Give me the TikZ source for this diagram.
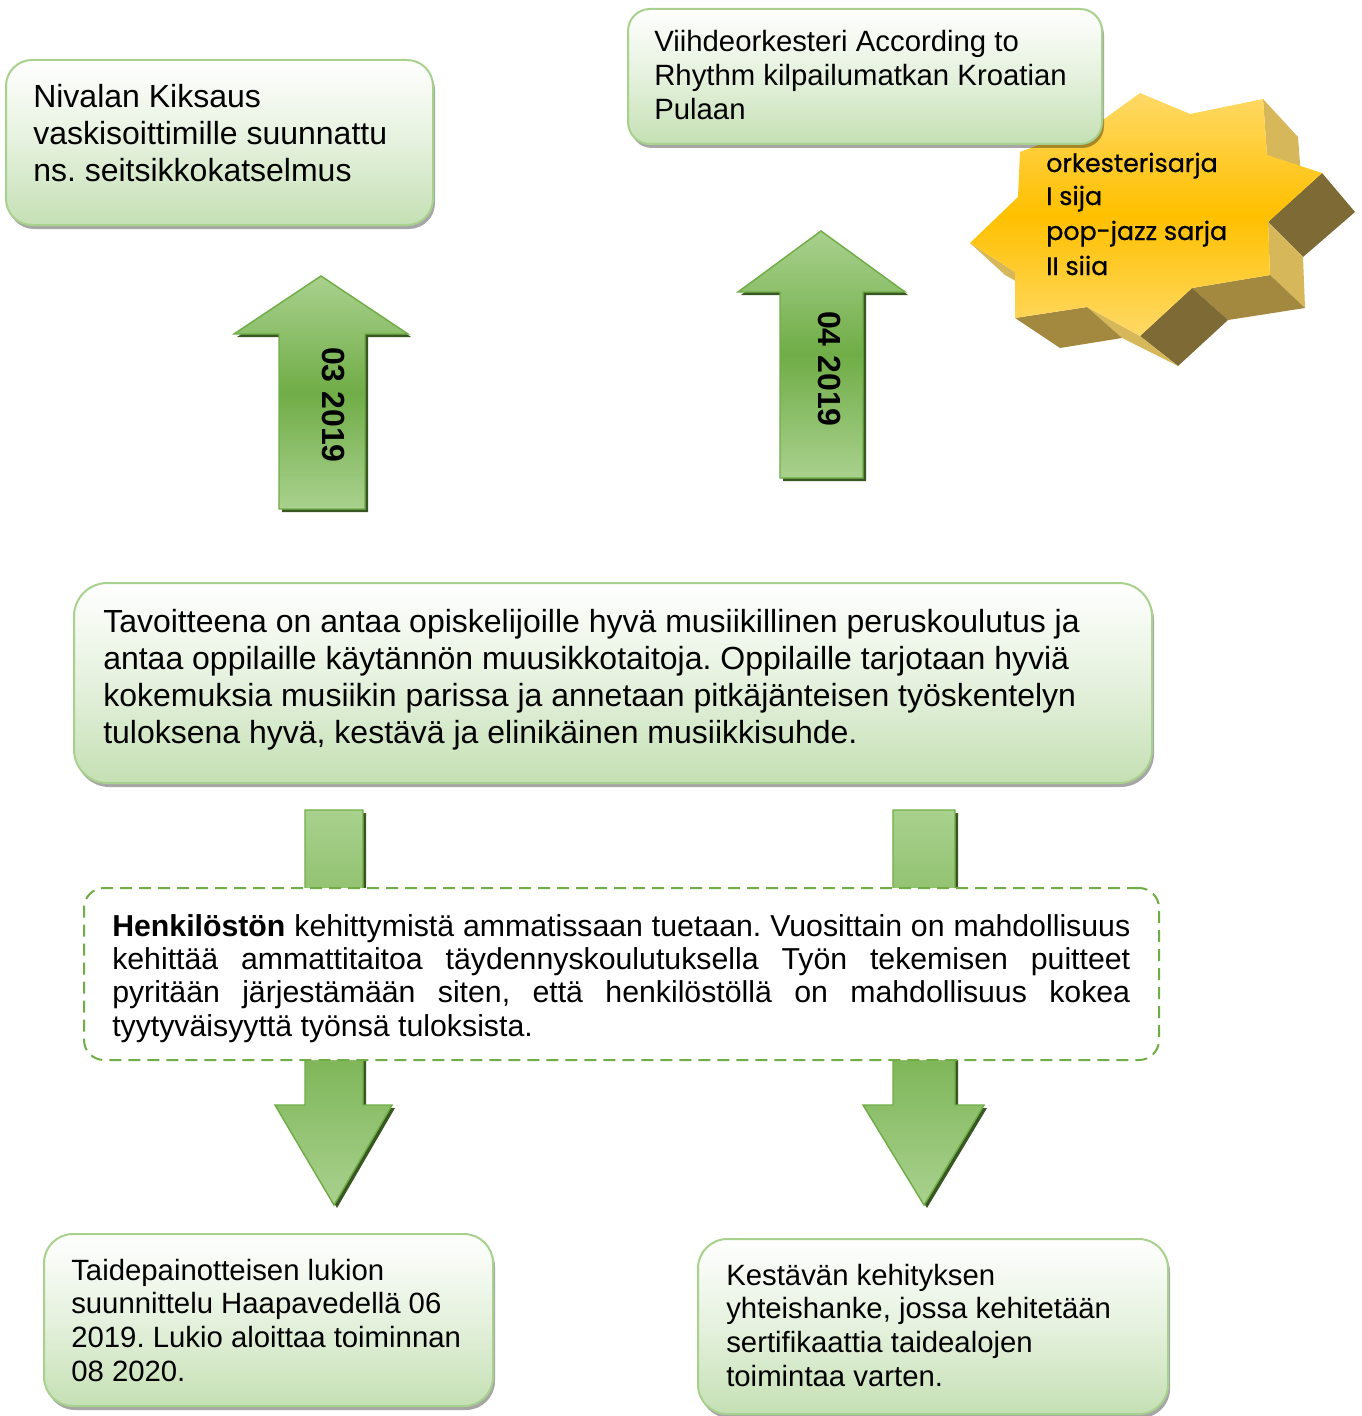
\documentclass[tikz,border=0pt]{standalone}
\usepackage{fontspec}
\setmainfont{Liberation Sans}
\newfontfamily\starfont{Poppins}[FakeBold=0.7]
\frenchspacing
\usetikzlibrary{shadows}
\definecolor{boxborder}{RGB}{169,209,142}
\definecolor{boxbot}{RGB}{197,224,180}
\definecolor{arrlight}{RGB}{169,209,142}
\definecolor{arrdark}{RGB}{112,173,71}
\definecolor{arrline}{RGB}{112,173,71}
\definecolor{arrshadow}{RGB}{56,87,35}
\definecolor{dashgreen}{RGB}{112,173,71}
\definecolor{facetop}{RGB}{255,217,102}
\definecolor{facemid}{RGB}{255,192,0}
\definecolor{goldlight}{RGB}{214,183,90}
\definecolor{goldmed}{RGB}{163,137,63}
\definecolor{golddark}{RGB}{125,106,52}
\tikzset{
  greenbox/.style={draw=boxborder, line width=1.5pt, rounded corners=#1,
    shading=axis, top color=white, bottom color=boxbot, middle color=boxbot!45!white,
    drop shadow={shadow xshift=1.5pt, shadow yshift=-3pt, fill=black, opacity=0.35},
    anchor=north west, inner sep=0pt},
  dashbox/.style={draw=dashgreen, line width=1.5pt, dash pattern=on 9pt off 5.25pt,
    rounded corners=15pt, fill=white, anchor=north west, inner sep=0pt},
  arrowbody/.style={draw=arrline, line width=1.1pt, top color=arrlight,
    bottom color=arrlight, middle color=arrdark},
  arrowshade/.style={fill=arrshadow},
  boxtext/.style={anchor=base west, inner sep=0pt, align=left},
  arrowlabel/.style={rotate=-90, inner sep=0pt, font=\fontsize{24}{27}\selectfont\bfseries},
  startext/.style={anchor=base west, inner sep=0pt, font=\starfont\fontsize{19}{23}\selectfont},
}
\begin{document}
\begin{tikzpicture}[x=0.75pt,y=-0.75pt]
\useasboundingbox (0,0) rectangle (1361,1416);

% ---------- star (3D) ----------
\fill[goldlight] (1263,99) -- (1298,137) -- (1302,190) -- (1267,155) -- cycle;
\fill[golddark] (1322,173) -- (1355,212) -- (1303,257) -- (1268,222) -- cycle;
\fill[goldlight] (1268,222) -- (1303,257) -- (1305,308) -- (1270,275) -- cycle;
\fill[goldmed] (1270,275) -- (1305,308) -- (1228,320) -- (1192,288) -- cycle;
\fill[golddark] (1192,288) -- (1228,320) -- (1178,366) -- (1140,336) -- cycle;
\fill[goldlight] (1140,336) -- (1178,366) -- (1122,338) -- (1087,307) -- cycle;
\fill[goldmed] (1087,307) -- (1122,338) -- (1060,348) -- (1015,318) -- cycle;
\fill[goldlight] (1015,272) -- (1050,300) -- (1005,275) -- (970,243) -- cycle;
\path[shading=axis, top color=facetop, bottom color=facetop, middle color=facemid]
  (1140,93) -- (1190,114) -- (1263,99) -- (1267,155) -- (1322,173) -- (1268,222)
  -- (1270,275) -- (1192,288) -- (1140,336) -- (1087,307) -- (1015,318)
  -- (1015,272) -- (970,243) -- (1018,197) -- (1020,152) -- (1100,122) -- cycle;
\node[startext] (s1) at (1046,172) {orkesterisarja};
\node[startext] (s2) at (1046,205) {I sija};
\node[startext] (s3) at (1046,240) {pop-jazz sarja};
\node[startext] (s4) at (1046,275) {II siia};

% ---------- top boxes ----------
\node[greenbox=19.5pt, minimum width=320.25pt, minimum height=123.75pt] (niv) at (5,59) {};
\node[boxtext] (nivt) at (33,108) {\fontsize{24}{27.6}\selectfont\parbox[t]{400pt}{Nivalan Kiksaus\\vaskisoittimille suunnattu\\ns. seitsikkokatselmus}};

\node[greenbox=16.5pt, minimum width=355.5pt, minimum height=101.25pt] (viih) at (627,8) {};
\node[boxtext] (viiht) at (654,52) {\fontsize{22}{25.4}\selectfont\parbox[t]{400pt}{Viihdeorkesteri According to\\Rhythm kilpailumatkan Kroatian\\Pulaan}};

% ---------- up arrows ----------
\begin{scope}[shift={(3,3)}]
\fill[arrowshade] (321,276) -- (408,334) -- (365,334) -- (365,509) -- (279,509) -- (279,334) -- (234,334) -- cycle;
\fill[arrowshade] (821,231) -- (905,292) -- (863,292) -- (863,478) -- (780,478) -- (780,292) -- (738,292) -- cycle;
\end{scope}
\path[arrowbody] (321,276) -- (408,334) -- (365,334) -- (365,509) -- (279,509) -- (279,334) -- (234,334) -- cycle;
\path[arrowbody] (821,231) -- (905,292) -- (863,292) -- (863,478) -- (780,478) -- (780,292) -- (738,292) -- cycle;
\node[arrowlabel] (l03) at (333,405) {03 2019};
\node[arrowlabel] (l04) at (830,369) {04 2019};

% ---------- main box ----------
\node[greenbox=25pt, minimum width=808.5pt, minimum height=150pt] (main) at (73,582) {};
\node[boxtext] (maint) at (103,632) {\fontsize{24}{27.75}\selectfont\parbox[t]{800pt}{Tavoitteena on antaa opiskelijoille hyvä musiikillinen peruskoulutus ja\\antaa oppilaille käytännön muusikkotaitoja. Oppilaille tarjotaan hyviä\\kokemuksia musiikin parissa ja annetaan pitkäjänteisen työskentelyn\\tuloksena hyvä, kestävä ja elinikäinen musiikkisuhde.}};

% ---------- down arrows ----------
\begin{scope}[shift={(3,3)}]
\fill[arrowshade] (305,810) -- (363,810) -- (363,1105) -- (392,1105) -- (334,1205) -- (275,1105) -- (305,1105) -- cycle;
\fill[arrowshade] (893,810) -- (955,810) -- (955,1105) -- (984,1105) -- (924,1205) -- (863,1105) -- (893,1105) -- cycle;
\end{scope}
\path[arrowbody] (305,810) -- (363,810) -- (363,1105) -- (392,1105) -- (334,1205) -- (275,1105) -- (305,1105) -- cycle;
\path[arrowbody] (893,810) -- (955,810) -- (955,1105) -- (984,1105) -- (924,1205) -- (863,1105) -- (893,1105) -- cycle;

% ---------- dashed box ----------
\node[dashbox, minimum width=806.25pt, minimum height=129pt] (hen) at (83,887) {};
\node[boxtext] (hent) at (112,936) {\fontsize{22.7}{25}\selectfont\parbox[t]{763.5pt}{\hyphenpenalty=10000\exhyphenpenalty=10000\parindent=0pt
\textbf{Henkilöstön} kehittymistä ammatissaan tuetaan. Vuosittain on mahdollisuus\linebreak
kehittää ammattitaitoa täydennyskoulutuksella Työn tekemisen puitteet\linebreak
pyritään järjestämään siten, että henkilöstöllä on mahdollisuus kokea\linebreak
tyytyväisyyttä työnsä tuloksista.}};

% ---------- bottom boxes ----------
\node[greenbox=21.75pt, minimum width=336.75pt, minimum height=129pt] (taide) at (43,1233) {};
\node[boxtext] (taidet) at (71,1280) {\fontsize{22}{25.4}\selectfont\parbox[t]{400pt}{Taidepainotteisen lukion\\suunnittelu Haapavedellä 06\\2019. Lukio aloittaa toiminnan\\08 2020.}};

\node[greenbox=22pt, minimum width=352.5pt, minimum height=131.25pt] (kest) at (697,1238) {};
\node[boxtext] (kestt) at (726,1285) {\fontsize{22}{25.4}\selectfont\parbox[t]{400pt}{Kestävän kehityksen\\yhteishanke, jossa kehitetään\\sertifikaattia taidealojen\\toimintaa varten.}};
\end{tikzpicture}
\end{document}
